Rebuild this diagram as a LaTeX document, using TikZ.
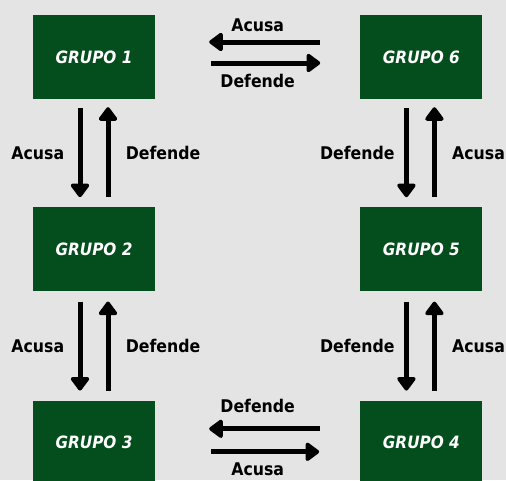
\documentclass[tikz,border=0pt]{standalone}
\usepackage{fontspec}
\usetikzlibrary{arrows.meta,positioning}
\newfontfamily\rotulo{DejaVu Sans Condensed}
\definecolor{verde}{RGB}{3,78,28}
\definecolor{papel}{RGB}{228,228,228}

\begin{document}
\begin{tikzpicture}[x=1pt,y=1pt,node distance=108pt and 205pt,
  grupo/.style={fill=verde,text=white,minimum width=122pt,minimum height=84pt,inner sep=0pt,
    font=\fontsize{17}{19}\rotulo\bfseries\itshape},
  seta/.style={line width=5pt,-{Triangle[round,length=15pt,width=21pt]}},
  every node/.append style={font=\fontsize{17.5}{20}\rotulo\bfseries}]
  \fill[papel] (0,0) rectangle (506,-480);
  \useasboundingbox (0,0) rectangle (506,-480);
  \node[grupo] (1) at (94,-57) {GRUPO 1};
  \node[grupo] (6) [right=of 1] {GRUPO 6};
  \node[grupo] (2) [below=of 1] {GRUPO 2};
  \node[grupo] (5) [below=of 6] {GRUPO 5};
  \node[grupo] (3) [below=109pt of 2] {GRUPO 3};
  \node[grupo] (4) [below=109pt of 5] {GRUPO 4};
  % 1 <-> 6
  \draw[seta,shorten <=40pt,shorten >=54pt] ([yshift=15pt]6.west) -- node[above=4pt] {Acusa} ([yshift=15pt]1.east);
  \draw[seta,shorten <=56pt,shorten >=40pt] ([yshift=-6pt]1.east) -- node[below=5pt] {Defende} ([yshift=-6pt]6.west);
  % 1 <-> 2
  \draw[seta,shorten <=9pt,shorten >=10pt] ([xshift=-14pt]1.south) -- node[left=10pt] {Acusa} ([xshift=-14pt]2.north);
  \draw[seta,shorten <=10pt,shorten >=8pt] ([xshift=14pt]2.north) -- node[right=12pt] {Defende} ([xshift=14pt]1.south);
  % 2 <-> 3
  \draw[seta,shorten <=10pt,shorten >=10pt] ([xshift=-14pt]2.south) -- node[left=10pt] {Acusa} ([xshift=-14pt]3.north);
  \draw[seta,shorten <=10pt,shorten >=10pt] ([xshift=14pt]3.north) -- node[right=12pt] {Defende} ([xshift=14pt]2.south);
  % 6 <-> 5
  \draw[seta,shorten <=9pt,shorten >=10pt] ([xshift=-15pt]6.south) -- node[left=6pt] {Defende} ([xshift=-15pt]5.north);
  \draw[seta,shorten <=10pt,shorten >=8pt] ([xshift=13pt]5.north) -- node[right=12pt] {Acusa} ([xshift=13pt]6.south);
  % 5 <-> 4
  \draw[seta,shorten <=10pt,shorten >=10pt] ([xshift=-15pt]5.south) -- node[left=6pt] {Defende} ([xshift=-15pt]4.north);
  \draw[seta,shorten <=10pt,shorten >=10pt] ([xshift=13pt]4.north) -- node[right=12pt] {Acusa} ([xshift=13pt]5.south);
  % 4 <-> 3
  \draw[seta,shorten <=40pt,shorten >=54pt] ([yshift=14pt]4.west) -- node[above=10pt] {Defende} ([yshift=14pt]3.east);
  \draw[seta,shorten <=56pt,shorten >=41pt] ([yshift=-9pt]3.east) -- node[below=5pt] {Acusa} ([yshift=-9pt]4.west);
\end{tikzpicture}
\end{document}
